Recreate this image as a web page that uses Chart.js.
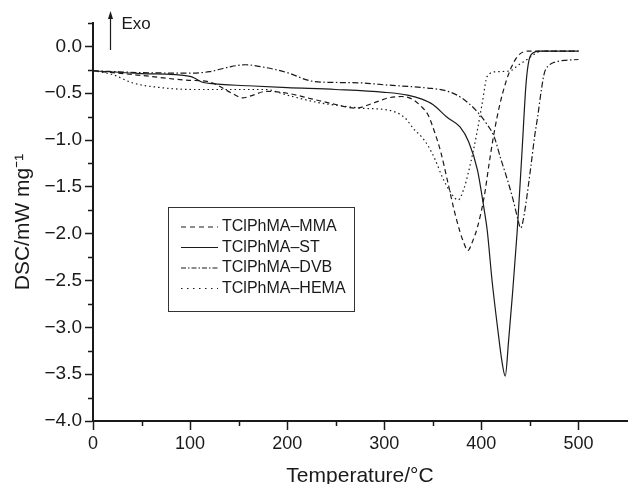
<!DOCTYPE html>
<html>
<head>
<meta charset="utf-8">
<script src="https://cdn.jsdelivr.net/npm/chart.js@4.4.1/dist/chart.umd.min.js"></script>
<style>
  html, body { margin: 0; padding: 0; background: #fff; }
  #wrap { width: 630px; height: 484px; position: relative; }
</style>
</head>
<body>
<div id="wrap"><canvas id="dscChart"></canvas></div>
<script>
// series names (legend order)
const seriesNames = ['TClPhMA\u2013MMA', 'TClPhMA\u2013ST', 'TClPhMA\u2013DVB', 'TClPhMA\u2013HEMA'];

// TClPhMA-MMA (dashed)
const mmaT = [0, 50, 96, 120, 143, 154, 165, 178, 200, 225, 250, 270, 290, 304, 318, 330, 338, 345, 352, 358, 365, 372, 378, 382, 386, 391, 396, 403, 408, 413, 419, 425, 431, 437, 443, 450, 500];
const mmaV = [-0.26, -0.31, -0.36, -0.38, -0.50, -0.55, -0.52, -0.48, -0.50, -0.56, -0.62, -0.66, -0.60, -0.55, -0.535, -0.57, -0.64, -0.73, -0.92, -1.12, -1.43, -1.75, -1.98, -2.10, -2.18, -2.08, -1.93, -1.60, -1.25, -0.93, -0.62, -0.39, -0.22, -0.11, -0.06, -0.05, -0.05];

// TClPhMA-ST (solid)
const stT = [0, 50, 100, 105, 112, 120, 160, 200, 250, 300, 324, 338, 350, 365, 378, 387, 396, 403, 406, 411, 417, 421, 424.6, 428, 432, 437, 442, 446, 449, 453, 460, 500];
const stV = [-0.26, -0.29, -0.32, -0.34, -0.38, -0.395, -0.42, -0.44, -0.46, -0.49, -0.52, -0.56, -0.62, -0.76, -0.86, -1.02, -1.32, -1.75, -1.96, -2.50, -3.03, -3.35, -3.52, -3.15, -2.65, -1.96, -1.10, -0.40, -0.15, -0.07, -0.05, -0.05];

// TClPhMA-DVB (dash-dot)
const dvbT = [0, 50, 100, 120, 140, 157, 175, 200, 225, 250, 277, 300, 328, 345, 362, 375, 386, 396, 405, 413, 420, 427, 433, 437, 440.6, 444, 451, 455, 458, 462, 465, 470, 475, 485, 500];
const dvbV = [-0.26, -0.28, -0.285, -0.27, -0.22, -0.196, -0.22, -0.28, -0.37, -0.385, -0.39, -0.41, -0.43, -0.445, -0.47, -0.52, -0.60, -0.70, -0.82, -0.96, -1.20, -1.43, -1.65, -1.82, -1.94, -1.80, -1.28, -0.95, -0.75, -0.45, -0.28, -0.20, -0.17, -0.15, -0.14];

// TClPhMA-HEMA (dotted)
const hemaT = [0, 20, 41, 70, 103, 140, 177, 200, 232, 260, 277, 304, 321, 331, 338, 345, 352, 360, 369, 376, 382, 387, 392, 396, 401, 406, 416, 430, 438, 447, 455, 462, 500];
const hemaV = [-0.26, -0.30, -0.39, -0.44, -0.46, -0.46, -0.46, -0.52, -0.60, -0.64, -0.66, -0.68, -0.76, -0.89, -0.96, -1.06, -1.20, -1.40, -1.57, -1.64, -1.52, -1.33, -1.10, -0.89, -0.60, -0.32, -0.27, -0.26, -0.20, -0.14, -0.08, -0.05, -0.05];

// axis ticks
const xTickLabels = [0, 100, 200, 300, 400, 500];
const yTickLabels = [0, -0.5, -1, -1.5, -2, -2.5, -3, -3.5, -4];

const lineColor = '#1a1a1a';
const dashes = [[5, 3.5], [], [6, 2.5, 1.5, 2.5], [1.5, 3]];
const legendDashes = [[5, 4], [], [5, 2, 1.5, 2], [1.5, 4.5]];

const toPoints = (ts, vs) => ts.map((t, i) => ({ x: t, y: vs[i] }));
const seriesData = [toPoints(mmaT, mmaV), toPoints(stT, stV), toPoints(dvbT, dvbV), toPoints(hemaT, hemaV)];

const isXMajor = v => xTickLabels.includes(Math.round(v));
const isYMajor = v => yTickLabels.some(l => Math.abs(l - v) < 1e-6);
const fmtY = v => (v < 0 ? '\u2212' : '') + Math.abs(v).toFixed(1);

Chart.defaults.font.family = "'Liberation Sans', Arial, sans-serif";
Chart.defaults.color = '#1a1a1a';

// short minor ticks, legend box and the Exo arrow
const extras = {
  id: 'extras',
  afterDraw(chart) {
    const ctx = chart.ctx;
    const { x, y } = chart.scales;
    const area = chart.chartArea;
    ctx.save();
    ctx.strokeStyle = '#1a1a1a';
    ctx.lineWidth = 1.5;
    ctx.beginPath();
    y.ticks.forEach(t => {
      if (isYMajor(t.value)) return;
      const py = Math.round(y.getPixelForValue(t.value)) + 0.5;
      ctx.moveTo(area.left - 5, py);
      ctx.lineTo(area.left, py);
    });
    x.ticks.forEach(t => {
      if (isXMajor(t.value) || t.value > 500) return;
      const px = Math.round(x.getPixelForValue(t.value)) + 0.5;
      ctx.moveTo(px, area.bottom);
      ctx.lineTo(px, area.bottom + 5);
    });
    ctx.stroke();

    // legend box
    const lx = area.left + 75, ly = area.top + 184, lw = 186, lh = 104;
    ctx.lineWidth = 1;
    ctx.strokeStyle = '#333';
    ctx.strokeRect(lx + 0.5, ly + 0.5, lw, lh);
    ctx.font = "16px 'Liberation Sans', Arial, sans-serif";
    ctx.fillStyle = '#1a1a1a';
    ctx.textBaseline = 'middle';
    ctx.textAlign = 'left';
    seriesNames.forEach((name, i) => {
      const ry = ly + 20 + i * 20.5;
      ctx.beginPath();
      ctx.setLineDash(legendDashes[i]);
      ctx.lineWidth = 1.2;
      ctx.strokeStyle = lineColor;
      ctx.moveTo(lx + 13, ry);
      ctx.lineTo(lx + 50, ry);
      ctx.stroke();
      ctx.setLineDash([]);
      ctx.fillText(name, lx + 54, ry);
    });

    // Exo arrow
    const ax = area.left + 17.5;
    ctx.beginPath();
    ctx.lineWidth = 1.2;
    ctx.moveTo(ax, area.top + 27);
    ctx.lineTo(ax, area.top - 8);
    ctx.stroke();
    ctx.beginPath();
    ctx.moveTo(ax, area.top - 12);
    ctx.lineTo(ax - 2.5, area.top - 4);
    ctx.lineTo(ax + 2.5, area.top - 4);
    ctx.closePath();
    ctx.fill();
    ctx.font = "17px 'Liberation Sans', Arial, sans-serif";
    ctx.fillText('Exo', ax + 11, area.top + 1);
    ctx.restore();
  }
};

new Chart(document.getElementById('dscChart'), {
  type: 'line',
  data: {
    datasets: seriesNames.map((name, i) => ({
      label: name,
      data: seriesData[i],
      borderColor: lineColor,
      borderWidth: 1.2,
      borderDash: dashes[i],
      pointRadius: 0,
      fill: false,
      cubicInterpolationMode: 'monotone'
    }))
  },
  options: {
    responsive: true,
    maintainAspectRatio: false,
    animation: false,
    layout: { padding: { top: 23, right: 0, left: 0, bottom: 0 } },
    plugins: {
      legend: { display: false },
      tooltip: { enabled: false }
    },
    scales: {
      x: {
        type: 'linear',
        min: 0,
        max: 550,
        afterFit: s => { s.height = 63; },
        border: { display: true, color: '#1a1a1a', width: 2 },
        grid: {
          drawOnChartArea: false,
          tickLength: 9,
          tickWidth: 1.5,
          tickColor: c => (isXMajor(c.tick.value) && c.tick.value <= 500) ? '#1a1a1a' : 'rgba(0,0,0,0)'
        },
        ticks: {
          stepSize: 50,
          autoSkip: false,
          maxRotation: 0,
          padding: 3,
          font: { size: 18 },
          callback: v => (isXMajor(v) && v <= 500) ? String(Math.round(v)) : ''
        },
        title: {
          display: true,
          text: 'Temperature/\u00B0C',
          font: { size: 21 },
          padding: { top: 0, bottom: -5 }
        }
      },
      y: {
        min: -4,
        max: 0.25,
        afterFit: s => { s.width = 93; },
        border: { display: true, color: '#1a1a1a', width: 2 },
        grid: {
          drawOnChartArea: false,
          tickLength: 8,
          tickWidth: 1.5,
          tickColor: c => isYMajor(c.tick.value) ? '#1a1a1a' : 'rgba(0,0,0,0)'
        },
        ticks: {
          stepSize: 0.25,
          autoSkip: false,
          padding: 3,
          font: { size: 19 },
          callback: v => isYMajor(v) ? fmtY(v) : ''
        },
        title: {
          display: true,
          text: 'DSC/mW mg\u207B\u00B9',
          font: { size: 21 },
          padding: { top: 11, bottom: 0 }
        }
      }
    }
  },
  plugins: [extras]
});
</script>
</body>
</html>
